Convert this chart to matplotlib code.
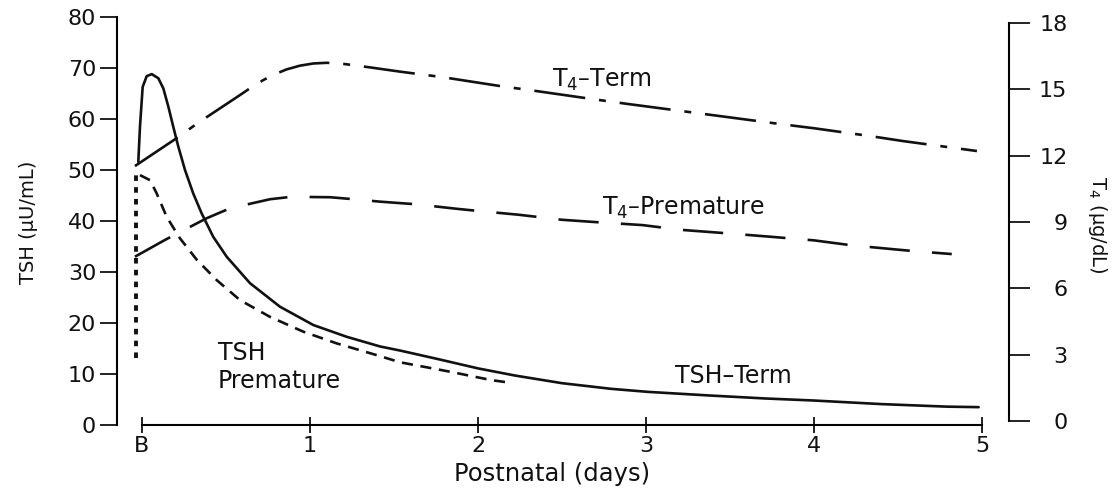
import matplotlib
matplotlib.use("Agg")
import matplotlib.pyplot as plt

plt.rcParams['font.family'] = ['DejaVu Sans']
plt.rcParams['mathtext.fontset'] = 'dejavusans'
plt.rcParams['lines.scale_dashes'] = False

# ---- data (days after birth; B = 0) ----
tsh_term_days = [-0.022, -0.012, 0.004, 0.028, 0.058, 0.097, 0.127, 0.157, 0.186, 0.216,
                 0.256, 0.305, 0.355, 0.424, 0.504, 0.643, 0.821, 1.020, 1.218, 1.417,
                 1.536, 1.765, 2.0, 2.22, 2.50, 2.79, 3.01, 3.37, 3.71, 4.0, 4.40, 4.79, 4.98]
tsh_term_vals = [51.6, 58.5, 66.3, 68.4, 68.8, 68.0, 66.0, 62.4, 58.5, 54.6,
                 50.0, 45.4, 41.5, 36.9, 33.0, 27.8, 23.2, 19.6, 17.3, 15.4,
                 14.6, 12.9, 11.1, 9.7, 8.2, 7.1, 6.5, 5.8, 5.2, 4.8, 4.1, 3.6, 3.5]

tsh_prem_rise_days = [-0.036, -0.036]
tsh_prem_rise_vals = [13.1, 49.4]
tsh_prem_days = [-0.012, 0.048, 0.0875, 0.147, 0.226, 0.326, 0.445, 0.583, 0.762, 0.960,
                 1.159, 1.397, 1.536, 1.833, 2.08, 2.167]
tsh_prem_vals = [49.0, 48.0, 45.4, 40.8, 36.6, 32.4, 28.4, 24.5, 21.2, 18.3,
                 16.0, 13.7, 12.3, 10.45, 8.8, 8.4]

t4_term_days = [-0.042, 0.196, 0.335, 0.583, 0.653, 0.722, 0.79, 0.86, 0.94, 1.02, 1.1,
                1.2, 1.35, 1.536, 1.79, 2.13, 2.35, 2.69, 2.89, 3.24, 3.44, 3.80, 4.0,
                4.34, 4.53, 4.97]
t4_term_vals = [11.53, 12.74, 13.49, 14.74, 15.1, 15.42, 15.68, 15.9, 16.07, 16.17, 16.2,
                16.15, 16.0, 15.8, 15.55, 15.15, 14.92, 14.55, 14.34, 13.99, 13.79, 13.43,
                13.24, 12.88, 12.66, 12.21]

t4_prem_days = [-0.042, 0.137, 0.385, 0.524, 0.762, 0.89, 1.12, 1.26, 1.417, 1.635, 1.87,
                2.0, 2.24, 2.5, 2.75, 2.98, 3.2, 3.48, 3.73, 4.0, 4.22, 4.47, 4.6, 4.82]
t4_prem_vals = [7.43, 8.19, 9.17, 9.62, 10.03, 10.14, 10.12, 10.03, 9.92, 9.8, 9.6,
                9.5, 9.33, 9.1, 8.97, 8.86, 8.65, 8.49, 8.34, 8.17, 7.95, 7.77, 7.68, 7.55]

x_ticks = [0, 1, 2, 3, 4, 5]
x_tick_labels = ['B', '1', '2', '3', '4', '5']
tsh_ticks = [0, 10, 20, 30, 40, 50, 60, 70, 80]
t4_ticks = [0, 3, 6, 9, 12, 15, 18]

W, H = 1120, 490
fig = plt.figure(figsize=(W / 100, H / 100), dpi=100)

X0, X1 = 117, 1009
xlim = (-(142 - X0) / 168.0, 5 + (X1 - 982) / 168.0)

# left axis (TSH)
ax = fig.add_axes([X0 / W, (H - 425) / H, (X1 - X0) / W, (425 - 17) / H])
# right axis (T4)
ax2 = fig.add_axes([X0 / W, (H - 421) / H, (X1 - X0) / W, (421 - 23) / H])
ax2.patch.set_alpha(0)

black = '#111111'
lw = 1.9

ax.plot(tsh_term_days, tsh_term_vals, color=black, lw=lw, solid_capstyle='round',
        solid_joinstyle='round')
ax.plot(tsh_prem_rise_days, tsh_prem_rise_vals, color=black, lw=2.8,
        linestyle=(0, (4.0, 4.5)), dash_capstyle='butt')
ax.plot(tsh_prem_days, tsh_prem_vals, color=black, lw=lw, linestyle=(0, (8, 5.5)))
ax2.plot(t4_term_days, t4_term_vals, color=black, lw=lw,
         linestyle=(0, (37, 10, 5, 10)), dash_joinstyle='round')
ax2.plot(t4_prem_days, t4_prem_vals, color=black, lw=lw, linestyle=(0, (29, 16)),
         dash_joinstyle='round')

for a in (ax, ax2):
    a.set_xlim(*xlim)
    for s in a.spines.values():
        s.set_visible(False)

ax.set_ylim(0, 80)
ax2.set_ylim(0, 18)

# left spine
ax.spines['left'].set_visible(True)
ax.spines['left'].set_linewidth(1.5)
ax.set_yticks(tsh_ticks)
ax.tick_params(axis='y', direction='out', length=12, width=1.3, pad=3,
               labelsize=16, colors=black)

# bottom axis
ax.spines['bottom'].set_visible(True)
ax.spines['bottom'].set_linewidth(1.5)
ax.spines['bottom'].set_bounds(0, 5)
ax.set_xticks(x_ticks)
ax.set_xticklabels(x_tick_labels)
ax.tick_params(axis='x', direction='inout', length=12, width=1.3, pad=2,
               labelsize=16, colors=black)

# right spine
ax2.spines['right'].set_visible(True)
ax2.spines['right'].set_linewidth(1.5)
ax2.yaxis.tick_right()
ax2.set_yticks(t4_ticks)
ax2.tick_params(axis='y', direction='out', length=15, width=1.3, pad=27,
                labelsize=16, colors=black)
for lbl in ax2.get_yticklabels():
    lbl.set_horizontalalignment('right')
ax2.set_xticks([])

# axis titles
fig.text(29 / W, 1 - 222 / H, 'TSH (μU/mL)', rotation=90, ha='center', va='center',
         fontsize=14, color=black)
fig.text(1097 / W, 1 - 225 / H, 'T$_4$ (μg/dL)', rotation=270, ha='center', va='center',
         fontsize=14, color=black)
fig.text(552 / W, 1 - 474 / H, 'Postnatal (days)', ha='center', va='center',
         fontsize=17.5, color=black)

# curve labels
ax.text(2.44, 66.3, 'T$_4$–Term', fontsize=17, ha='left', va='baseline', color=black)
ax.text(2.74, 41.2, 'T$_4$–Premature', fontsize=17, ha='left', va='baseline', color=black)
ax.text(0.45, 7.3, 'TSH\nPremature', fontsize=17, ha='left', va='baseline',
        color=black, linespacing=1.2)
ax.text(3.17, 8.3, 'TSH–Term', fontsize=17, ha='left', va='baseline', color=black)

fig.savefig('out.png', dpi=100)
